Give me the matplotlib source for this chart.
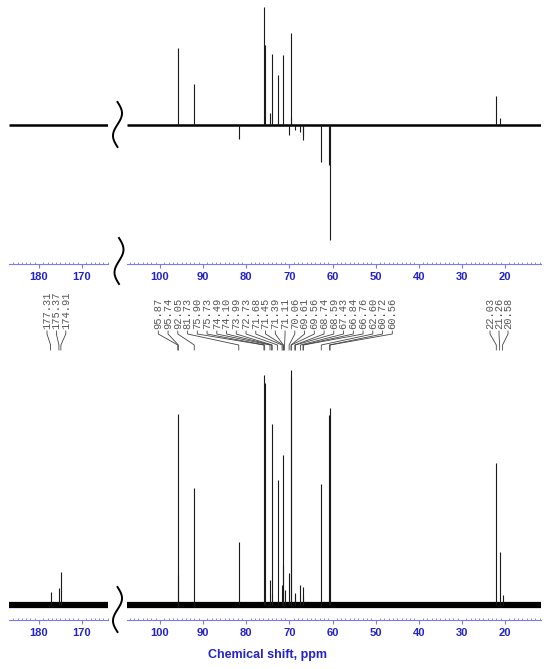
import numpy as np
import matplotlib
matplotlib.use("Agg")
import matplotlib.pyplot as plt
from matplotlib.ticker import MultipleLocator

# peak labels printed over the 13C spectrum (ppm)
label_left = ["177.31", "175.37", "174.91"]
label_mid = ["95.87", "95.74", "92.05", "81.73", "75.90", "75.73", "74.49",
             "74.10", "73.99", "72.73", "71.68", "71.45", "71.39", "71.11",
             "70.06", "69.61", "69.56", "68.74", "68.59", "67.43", "66.84",
             "66.76", "62.60", "60.72", "60.56"]
label_right = ["22.03", "21.26", "20.58"]

# DEPT-135 (top trace), intensities (a.u.)
dept_ppm = [95.87, 92.05, 81.73, 75.90, 75.73, 74.49, 74.10, 72.73, 71.45,
            70.06, 69.61, 69.56, 68.74, 67.43, 66.84, 66.76, 62.60, 60.72,
            60.56, 22.03, 21.26]
dept_int = [77, 41, -14, 118, 80, 12, 71, 50, 70,
            -10, 8, 92, -5, -7, -15, -10, -37, -40,
            -115, 29, 7]

# 13C (bottom trace), intensities (a.u.)
c13_ppm = [177.31, 175.37, 174.91, 95.87, 95.74, 92.05, 81.73, 75.90, 75.73,
           74.49, 74.10, 73.99, 72.73, 71.68, 71.45, 71.39, 71.11, 70.06,
           69.61, 69.56, 68.74, 68.59, 67.43, 66.84, 66.76, 62.60, 60.72,
           60.56, 22.03, 21.26, 20.58]
c13_int = [13, 17, 33, 191, 30, 117, 63, 230, 222,
           25, 181, 12, 125, 20, 150, 40, 15, 32,
           228, 235, 12, 10, 20, 18, 10, 121, 190,
           197, 142, 53, 10]

left_lim = (186.98, 163.95)
right_lim = (107.64, 11.67)
left_ticks = [180, 170]
right_ticks = [100, 90, 80, 70, 60, 50, 40, 30, 20]

W, H = 550, 669
axis_blue = "#7b7bea"
text_blue = "#2323c8"

fig = plt.figure(figsize=(W / 100, H / 100), dpi=100)


def panel(x0, x1, y0, y1):
    # pixel box -> figure fraction
    return fig.add_axes([x0 / W, 1 - y1 / H, (x1 - x0) / W, (y1 - y0) / H])


def style(ax, lim, ticks, ylim):
    ax.set_xlim(lim)
    ax.set_ylim(ylim)
    for s in ["top", "left", "right"]:
        ax.spines[s].set_visible(False)
    ax.spines["bottom"].set_color(axis_blue)
    ax.spines["bottom"].set_linewidth(0.8)
    ax.set_yticks([])
    ax.set_xticks(ticks)
    ax.xaxis.set_minor_locator(MultipleLocator(1))
    ax.tick_params(axis="x", which="major", direction="out", length=3,
                   width=0.8, color=axis_blue, labelcolor=text_blue,
                   labelsize=8, pad=3)
    ax.tick_params(axis="x", which="minor", direction="in", length=1.6,
                   width=0.6, color=axis_blue)
    for t in ax.get_xticklabels():
        t.set_fontweight("bold")
        t.set_family("Liberation Sans")
    ax.patch.set_alpha(0)


def spectrum(ax, lim, ppm, inten, band):
    ax.plot(lim, [0, 0], color="k", lw=band, solid_capstyle="butt")
    lo, hi = min(lim), max(lim)
    xs = [p for p in ppm if lo <= p <= hi]
    hs = [h for p, h in zip(ppm, inten) if lo <= p <= hi]
    if xs:
        ax.vlines(xs, 0, hs, color="#1a1a1a", lw=0.8)


top_ylim = (-139, 125)
bot_ylim = (-15, 245)

ax_tl = panel(9, 108, 0, 264)
ax_tr = panel(127, 541, 0, 264)
ax_bl = panel(9, 108, 360, 620)
ax_br = panel(127, 541, 360, 620)

style(ax_tl, left_lim, left_ticks, top_ylim)
style(ax_tr, right_lim, right_ticks, top_ylim)
style(ax_bl, left_lim, left_ticks, bot_ylim)
style(ax_br, right_lim, right_ticks, bot_ylim)

spectrum(ax_tl, left_lim, dept_ppm, dept_int, 1.8)
spectrum(ax_tr, right_lim, dept_ppm, dept_int, 1.8)
spectrum(ax_bl, left_lim, c13_ppm, c13_int, 4.5)
spectrum(ax_br, right_lim, c13_ppm, c13_int, 4.5)

# overlay in pixel units for break marks, label fans and axis title
ov = fig.add_axes([0, 0, 1, 1])
ov.set_xlim(0, W)
ov.set_ylim(H, 0)
ov.axis("off")


def squiggle(x0, y0, y1, a=4.5):
    t = np.linspace(0, 1, 80)
    ov.plot(x0 + a * np.sin(2 * np.pi * t), y0 + (y1 - y0) * t,
            color="k", lw=1.4)


squiggle(117.5, 102, 147)
squiggle(119, 238, 284)
squiggle(117.5, 587, 632)


def fan(labels, x_start, step, ax):
    for i, lab in enumerate(labels):
        lx = x_start + i * step
        px = ax.transData.transform((float(lab), 0))[0]
        ov.text(lx, 329, lab, rotation=90, ha="center", va="bottom",
                family="Liberation Mono", fontsize=7.5, color="#555555")
        ov.plot([lx, lx, px, px], [331, 334, 345, 350],
                color="#444444", lw=0.6)


fan(label_left, 47, 9.4, ax_bl)
fan(label_mid, 158.3, 9.75, ax_br)
fan(label_right, 490, 9.0, ax_br)

ov.text(267, 655, "Chemical shift, ppm", ha="center", va="center",
        fontsize=9, fontweight="bold", family="Liberation Sans",
        color=text_blue)

fig.savefig("out.png", dpi=100)
